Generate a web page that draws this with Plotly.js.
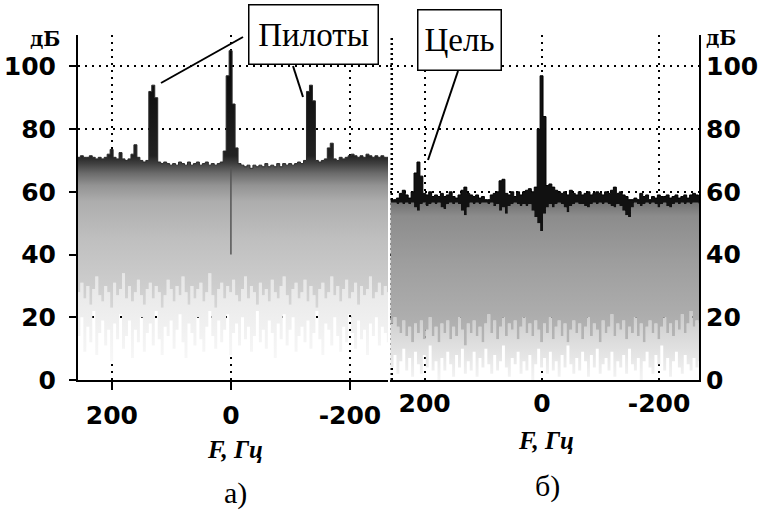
<!DOCTYPE html>
<html>
<head>
<meta charset="utf-8">
<script src="https://cdn.plot.ly/plotly-3.0.1.min.js"></script>
<style>html,body{margin:0;padding:0;background:#fff;}#chart{width:765px;height:510px;}</style>
</head>
<body>
<div id="chart"></div>
<script>
// Frequency grid (Hz): first sample and step (axis is reversed: +F on the left)
const freqStart = 258;
const freqStep = -5;

// Panel а): upper envelope of the spectrum, dB
const topA = [71, 71.5, 71, 71, 71.5, 71, 70.5, 71, 70.5, 71,
  72, 73.5, 71, 70.5, 72.5, 70.5, 70, 70.5, 72, 75,
  71, 70, 69.5, 70, 92, 94, 90, 69.5, 69, 69.5,
  69, 68.5, 69, 68.5, 69.5, 69, 68.5, 69.5, 68.5, 69,
  69.5, 68.5, 69, 69.5, 68.5, 69, 68.5, 69, 69.5, 73,
  97, 105, 88, 74, 69, 68.5, 68, 68.5, 67.5, 68.5,
  68, 68.5, 68, 69, 68, 68.5, 68, 69, 68, 69,
  68.5, 69, 68.5, 69, 69.5, 69, 70, 92, 94, 89,
  70, 69.5, 70, 70.5, 74, 75.5, 70.5, 70, 71, 70.5,
  71, 71.5, 72, 71.5, 71, 71.5, 71, 72, 71.5, 71,
  71.5, 71, 71.5, 71, 71, 71];
// Panel а): lower edge of the dense grey part, dB
const lowA = [28, 31, 26, 30, 24, 29, 33, 27, 25, 30,
  28, 23, 31, 27, 29, 34, 26, 30, 25, 28,
  32, 27, 24, 29, 31, 26, 30, 28, 23, 27,
  32, 29, 25, 30, 27, 33, 28, 24, 30, 26,
  29, 31, 25, 28, 34, 27, 23, 29, 31, 26,
  30, 28, 32, 27, 25, 29, 33, 26, 30, 28,
  24, 31, 27, 29, 25, 32, 28, 26, 30, 33,
  27, 24, 29, 31, 26, 28, 32, 25, 30, 27,
  23, 29, 31, 26, 28, 33, 27, 30, 25, 29,
  32, 26, 28, 31, 24, 30, 27, 29, 33, 26,
  28, 31, 27, 30, 28, 29];
// Panel а): ends of the faint streaks, dB
const floorA = [14, 20, 9, 17, 12, 22, 8, 15, 19, 11,
  16, 6, 18, 13, 21, 10, 14, 19, 7, 16,
  12, 20, 9, 15, 18, 11, 22, 13, 8, 17,
  14, 19, 10, 16, 21, 12, 7, 18, 15, 11,
  20, 13, 9, 17, 22, 14, 10, 19, 12, 16,
  21, 8, 15, 18, 11, 20, 13, 17, 9, 14,
  22, 12, 16, 10, 19, 15, 7, 18, 13, 21,
  11, 16, 20, 9, 14, 17, 12, 19, 10, 15,
  22, 13, 8, 18, 16, 11, 20, 14, 9, 17,
  12, 21, 15, 10, 19, 13, 16, 8, 18, 14,
  20, 11, 17, 15, 12, 16];
// Panel а): dark streak at zero frequency
const streakF = [0, 0];
const streakDb = [40, 68];

// Panel б): upper envelope, dB
const topB = [57.5, 57.5, 58, 59.5, 60.5, 59, 58, 60, 66, 69.5,
  65, 59.5, 59, 60, 58.5, 59, 58.5, 59.5, 58.5, 59,
  60, 58.5, 58, 59, 60.5, 61.5, 59.5, 59, 58.5, 59,
  58, 58.5, 57.5, 57.5, 59, 59.5, 60, 63.5, 64, 59.5,
  59, 60, 58.5, 60, 59, 60, 60.5, 61, 60, 61.5,
  80, 97, 84, 62, 62.5, 61.5, 60.5, 60, 59.5, 60,
  59, 60.5, 59.5, 59, 60, 59, 59.5, 60, 59, 59.5,
  60, 59.5, 59, 60, 59.5, 60.5, 61.5, 59.5, 60, 59,
  58.5, 57.5, 57.5, 58, 57.5, 59.5, 58.5, 59, 57.5, 58.5,
  58, 59, 58.5, 58.5, 59, 58, 58.5, 59, 58, 58.5,
  59, 58, 59, 59.5, 59, 58.5, 58.5];
// Panel б): lower edge of the black band, dB
const darkB = [56.5, 56.5, 56, 56.5, 56, 56.5, 56, 56.5, 55, 54,
  56, 56.5, 55.5, 56, 56.5, 56, 56.5, 55, 54.5, 56,
  56.5, 56, 56.5, 56, 54, 52.5, 55, 56.5, 56, 56.5,
  56, 56.5, 56.5, 56, 56.5, 55.5, 56, 54, 55, 53,
  55.5, 56, 56.5, 56, 55.5, 56, 55.5, 56, 54, 52,
  50, 47.5, 53, 55, 56, 55, 56, 56.5, 56, 55,
  53.5, 55.5, 56, 56.5, 56, 56, 55.5, 55, 56, 56.5,
  56, 56.5, 56, 56.5, 56, 55.5, 55, 56, 55.5, 54,
  52.5, 52, 55, 56.5, 56, 55.5, 56, 56.5, 56, 56.5,
  56, 55, 56, 56.5, 55.5, 55, 56, 56.5, 56, 56.5,
  56, 56.5, 56, 56.5, 56.5, 56, 56.5];
// Panel б): lower edge of the dense grey part, dB
const lowB = [18, 20, 17, 15, 19, 14, 17, 12, 18, 15,
  19, 13, 16, 20, 14, 17, 12, 18, 15, 19,
  13, 17, 14, 20, 16, 11, 18, 15, 19, 14,
  17, 12, 18, 21, 15, 19, 13, 17, 20, 14,
  18, 16, 19, 13, 17, 20, 15, 18, 14, 19,
  16, 12, 18, 15, 20, 13, 17, 19, 14, 18,
  12, 16, 19, 15, 18, 13, 17, 20, 14, 18,
  16, 12, 19, 15, 17, 21, 14, 18, 16, 19,
  13, 17, 15, 20, 14, 18, 12, 17, 19, 15,
  18, 13, 17, 20, 15, 18, 14, 19, 16, 21,
  15, 18, 22, 17, 19, 18, 16];
// Panel б): ends of the faint streaks, dB
const floorB = [4, 8, 2, 6, 10, 3, 7, 1, 9, 5,
  2, 8, 4, 11, 3, 6, 0, 7, 3, 9,
  5, 1, 8, 4, 10, 2, 6, 3, 9, 1,
  7, 4, 10, 5, 2, 8, 3, 6, 11, 4,
  1, 7, 5, 9, 2, 6, 3, 8, 0, 5,
  10, 4, 7, 2, 9, 3, 6, 1, 8, 4,
  11, 5, 2, 7, 3, 9, 6, 1, 8, 4,
  10, 2, 5, 7, 3, 9, 1, 6, 4, 8,
  2, 10, 5, 3, 7, 0, 6, 9, 4, 2,
  8, 5, 11, 3, 7, 1, 6, 9, 4, 2,
  8, 5, 3, 7, 4, 6, 3];

// Axis ticks
const fTicks = [200, 0, -200];
const fTickText = ['200', '0', '-200'];
const dbTicks = [0, 20, 40, 60, 80, 100];
const dbTickText = ['0', '20', '40', '60', '80', '100'];

const W = 765, H = 510;
const px = v => v / W;
const py = v => 1 - v / H;

function layer(y, xa, ya, fill, extra) {
  return Object.assign({
    type: 'scatter', mode: 'lines', x0: freqStart, dx: freqStep, y: y,
    xaxis: xa, yaxis: ya, line: {shape: 'hv', width: 0, color: 'rgba(0,0,0,0)'},
    fill: fill, hoverinfo: 'skip', showlegend: false
  }, extra || {});
}

const traces = [
  layer(floorA, 'x', 'y', 'none'),
  layer(lowA, 'x', 'y', 'tonexty', {
    fillgradient: {type: 'vertical', start: 0, stop: 34,
      colorscale: [[0, '#fbfbfb'], [1, '#e6e6e6']]}
  }),
  layer(topA, 'x', 'y', 'tonexty', {
    line: {shape: 'hv', width: 1, color: '#2a2a2a'},
    fillgradient: {type: 'vertical', start: 20, stop: 110,
      colorscale: [[0, '#dadada'], [0.111, '#cdcdcd'], [0.278, '#bfbfbf'], [0.411, '#adadad'],
        [0.467, '#939393'], [0.511, '#6a6a6a'], [0.544, '#404040'], [0.572, '#222222'], [1, '#000000']]}
  }),
  {type: 'scatter', mode: 'lines', x: streakF, y: streakDb, xaxis: 'x', yaxis: 'y',
    line: {color: '#555555', width: 1.5}, hoverinfo: 'skip', showlegend: false},

  layer(floorB, 'x2', 'y2', 'none'),
  layer(lowB, 'x2', 'y2', 'tonexty', {
    fillgradient: {type: 'vertical', start: 0, stop: 22,
      colorscale: [[0, '#f4f4f4'], [1, '#cacaca']]}
  }),
  layer(darkB, 'x2', 'y2', 'tonexty', {
    fillgradient: {type: 'vertical', start: 10, stop: 57,
      colorscale: [[0, '#b8b8b8'], [0.25, '#acacac'], [0.6, '#9d9d9d'], [0.9, '#8c8c8c'], [1, '#6e6e6e']]}
  }),
  layer(topB, 'x2', 'y2', 'tonexty', {
    line: {shape: 'hv', width: 1, color: '#000'},
    fillcolor: '#111111'
  })
];

const tickFont = {family: 'DejaVu Sans', size: 25, color: '#000', weight: 'bold'};
const gridCommon = {showgrid: true, gridcolor: '#000', griddash: '2px,5px', gridwidth: 2,
  zeroline: false, showline: true, linecolor: '#000', linewidth: 2, fixedrange: true};

const layout = {
  width: W, height: H,
  margin: {l: 0, r: 0, t: 0, b: 0},
  paper_bgcolor: '#fff', plot_bgcolor: '#fff',
  showlegend: false,
  xaxis: Object.assign({}, gridCommon, {
    domain: [px(78), px(388)], range: [257, -264], anchor: 'y',
    tickmode: 'array', tickvals: fTicks, ticktext: fTickText,
    ticks: 'outside', ticklen: 8, tickwidth: 2, tickcolor: '#000', tickfont: tickFont,
    ticklabelstandoff: 4
  }),
  yaxis: Object.assign({}, gridCommon, {
    domain: [1 - 380 / H, 1 - 35 / H], range: [0, 110], anchor: 'x',
    tickmode: 'array', tickvals: dbTicks, ticktext: dbTickText,
    ticks: 'outside', ticklen: 7, tickwidth: 2, tickcolor: '#000', tickfont: tickFont,
    ticklabelstandoff: 8
  }),
  xaxis2: Object.assign({}, gridCommon, {
    domain: [px(390), px(699)], range: [259, -268], anchor: 'y2',
    tickmode: 'array', tickvals: fTicks, ticktext: fTickText,
    ticks: '', tickfont: tickFont
  }),
  yaxis2: Object.assign({}, gridCommon, {
    domain: [1 - 380 / H, 1 - 35 / H], range: [0, 110], anchor: 'x2', side: 'right',
    tickmode: 'array', tickvals: dbTicks, ticktext: dbTickText,
    ticks: '', tickfont: tickFont
  }),
  shapes: [
    {type: 'line', xref: 'x2', yref: 'y2', x0: 256, x1: 256, y0: 0, y1: 110, layer: 'below',
      line: {color: '#000', width: 2.5, dash: '2px,3px'}},
    {type: 'line', xref: 'paper', yref: 'paper', x0: px(243), y0: py(37), x1: px(161), y1: py(83),
      line: {color: '#000', width: 2}},
    {type: 'line', xref: 'paper', yref: 'paper', x0: px(293), y0: py(66), x1: px(303), y1: py(97),
      line: {color: '#000', width: 2}},
    {type: 'line', xref: 'paper', yref: 'paper', x0: px(458), y0: py(71), x1: px(428), y1: py(160),
      line: {color: '#000', width: 2}}
  ],
  annotations: [
    {text: 'Пилоты', xref: 'paper', yref: 'paper', x: px(313), y: py(35), xanchor: 'center', yanchor: 'middle',
      showarrow: false, width: 128, height: 58, bgcolor: '#fff', bordercolor: '#000', borderwidth: 1.5, borderpad: 0,
      font: {family: 'Liberation Serif', size: 33, color: '#000'}},
    {text: 'Цель', xref: 'paper', yref: 'paper', x: px(459), y: py(40.5), xanchor: 'center', yanchor: 'middle',
      showarrow: false, width: 82, height: 59, bgcolor: '#fff', bordercolor: '#000', borderwidth: 1.5, borderpad: 0,
      font: {family: 'Liberation Serif', size: 33, color: '#000'}},
    {text: 'дБ', xref: 'paper', yref: 'paper', x: px(45), y: py(39), xanchor: 'center', yanchor: 'middle',
      showarrow: false, font: {family: 'DejaVu Serif', size: 20, color: '#000', weight: 'bold'}},
    {text: 'дБ', xref: 'paper', yref: 'paper', x: px(721), y: py(38), xanchor: 'center', yanchor: 'middle',
      showarrow: false, font: {family: 'DejaVu Serif', size: 20, color: '#000', weight: 'bold'}},
    {text: 'F, Гц', xref: 'paper', yref: 'paper', x: px(235), y: py(449), xanchor: 'center', yanchor: 'middle',
      showarrow: false, font: {family: 'Liberation Serif', size: 25, color: '#000', weight: 'bold', style: 'italic'}},
    {text: 'F, Гц', xref: 'paper', yref: 'paper', x: px(546), y: py(440), xanchor: 'center', yanchor: 'middle',
      showarrow: false, font: {family: 'Liberation Serif', size: 25, color: '#000', weight: 'bold', style: 'italic'}},
    {text: 'а)', xref: 'paper', yref: 'paper', x: px(235), y: py(493), xanchor: 'center', yanchor: 'middle',
      showarrow: false, font: {family: 'Liberation Serif', size: 30, color: '#000'}},
    {text: 'б)', xref: 'paper', yref: 'paper', x: px(547), y: py(486), xanchor: 'center', yanchor: 'middle',
      showarrow: false, font: {family: 'Liberation Serif', size: 30, color: '#000'}}
  ]
};

Plotly.newPlot('chart', traces, layout, {displayModeBar: false, staticPlot: true});
</script>
</body>
</html>
